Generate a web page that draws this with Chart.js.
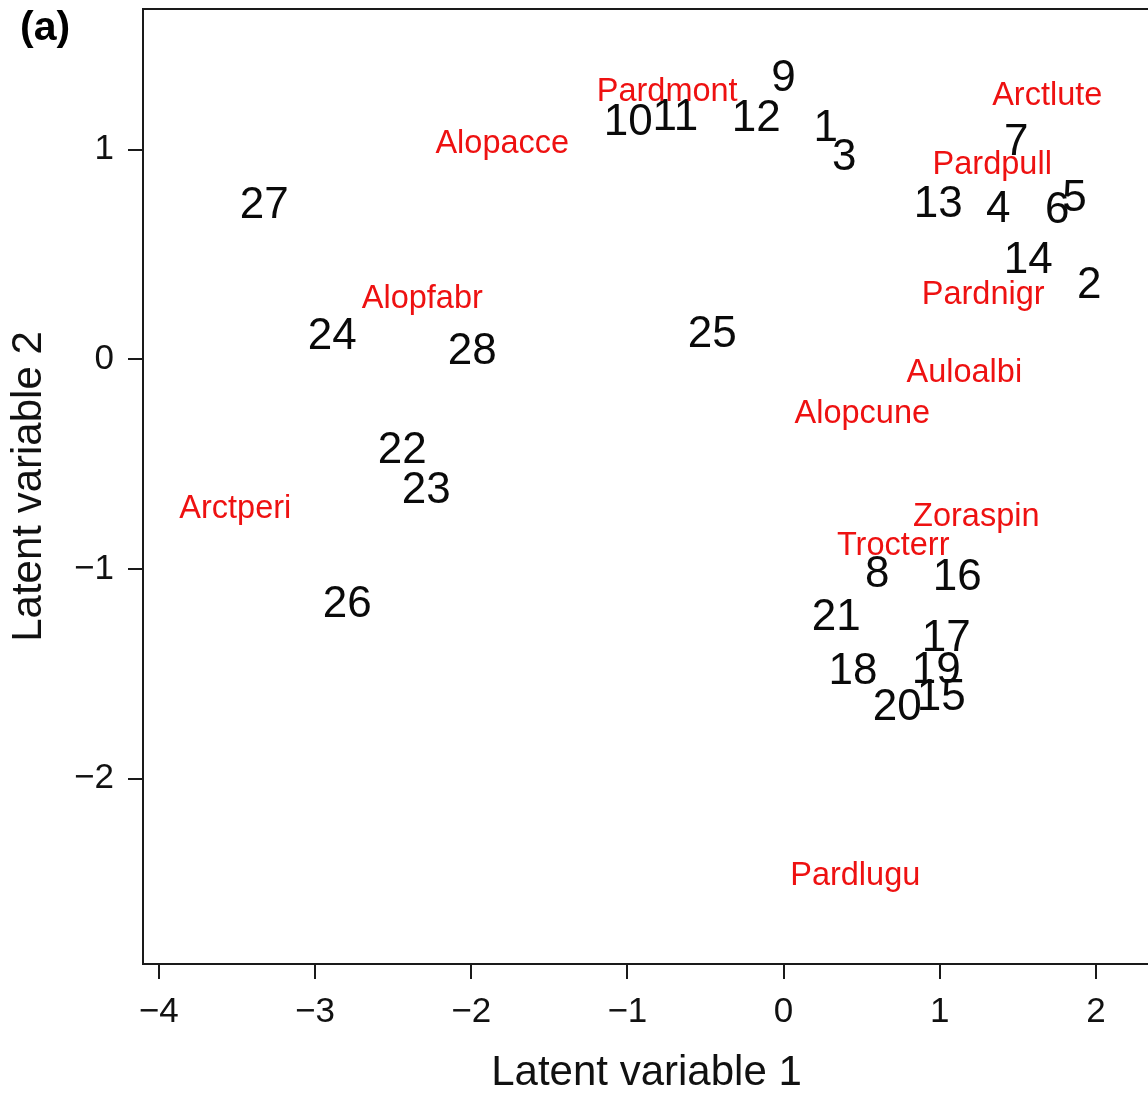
<!DOCTYPE html>
<html>
<head>
<meta charset="utf-8">
<script src="https://cdn.jsdelivr.net/npm/chart.js@4.4.1/dist/chart.umd.min.js"></script>
<style>
html,body{margin:0;padding:0;background:#fff;overflow:hidden;}
#wrap{position:relative;width:1160px;height:1095px;}
</style>
</head>
<body>
<div id="wrap"><canvas id="c" width="1160" height="1095"></canvas></div>
<script>
// ---- data ----
const siteLabels = ['1','2','3','4','5','6','7','8','9','10','11','12','13','14',
  '15','16','17','18','19','20','21','22','23','24','25','26','27','28'];
const siteX = [0.270, 1.957, 0.389, 1.375, 1.862, 1.752, 1.490, 0.599, 0.000, -0.995,
  -0.693, -0.175, 0.990, 1.567, 1.010, 1.112, 1.042, 0.445, 0.977, 0.728,
  0.337, -2.441, -2.287, -2.889, -0.456, -2.793, -3.325, -1.993];
const siteY = [1.117, 0.369, 0.979, 0.731, 0.784, 0.726, 1.051, -1.009, 1.356, 1.146,
  1.170, 1.165, 0.755, 0.488, -1.600, -1.024, -1.315, -1.472, -1.467, -1.644,
  -1.215, -0.418, -0.609, 0.125, 0.135, -1.153, 0.750, 0.054];

const speciesLabels = ['Alopacce','Alopcune','Alopfabr','Arctlute','Arctperi','Auloalbi',
  'Pardlugu','Pardmont','Pardnigr','Pardpull','Trocterr','Zoraspin'];
const speciesX = [-1.801, 0.504, -2.313, 1.688, -3.510, 1.157, 0.459, -0.745, 1.278, 1.336, 0.702, 1.234];
const speciesY = [1.041, -0.247, 0.302, 1.270, -0.704, -0.051, -2.450, 1.289, 0.321, 0.941, -0.876, -0.742];

const xTicks = [-4, -3, -2, -1, 0, 1, 2];
const yTicks = [-2, -1, 0, 1];
const xTitle = 'Latent variable 1';
const yTitle = 'Latent variable 2';
const panelLabel = '(a)';

// ---- chart ----
const FONT = "'Liberation Sans', Arial, Helvetica, sans-serif";
const fmt = v => (v < 0 ? '\u2212' + Math.abs(v) : String(v));

const textLabels = {
  id: 'textLabels',
  afterDatasetsDraw(chart) {
    const ctx = chart.ctx;
    const xs = chart.scales.x, ys = chart.scales.y;
    const area = chart.chartArea;
    ctx.save();
    ctx.beginPath();
    ctx.rect(area.left, area.top, area.right - area.left, area.bottom - area.top);
    ctx.clip();
    chart.data.datasets.forEach(ds => {
      ctx.font = ds.labelFont + 'px ' + FONT;
      ctx.fillStyle = ds.labelColor;
      ctx.textAlign = 'center';
      ctx.textBaseline = 'alphabetic';
      ds.data.forEach((p, i) => {
        const px = xs.getPixelForValue(p.x);
        const py = ys.getPixelForValue(p.y);
        ctx.fillText(ds.labels[i], px, py + 0.358 * ds.labelFont);
      });
    });
    ctx.restore();
  },
  afterDraw(chart) {
    const ctx = chart.ctx;
    const a = chart.chartArea;
    ctx.save();
    ctx.strokeStyle = '#1a1a1a';
    ctx.lineWidth = 2;
    ctx.strokeRect(a.left, a.top, a.right - a.left, a.bottom - a.top);
    ctx.font = 'bold 41px ' + FONT;
    ctx.fillStyle = '#000';
    ctx.textAlign = 'left';
    ctx.textBaseline = 'alphabetic';
    ctx.fillText(panelLabel, 20, 40);
    ctx.restore();
  }
};

new Chart(document.getElementById('c'), {
  type: 'scatter',
  data: {
    datasets: [
      {
        label: 'sites',
        data: siteX.map((x, i) => ({x: x, y: siteY[i]})),
        labels: siteLabels,
        labelFont: 44,
        labelColor: '#0a0a0a',
        pointRadius: 0,
        pointHoverRadius: 0
      },
      {
        label: 'species',
        data: speciesX.map((x, i) => ({x: x, y: speciesY[i]})),
        labels: speciesLabels,
        labelFont: 32.5,
        labelColor: '#ee1111',
        pointRadius: 0,
        pointHoverRadius: 0
      }
    ]
  },
  options: {
    responsive: false,
    animation: false,
    events: [],
    layout: {padding: {left: 0, top: 9, right: 10, bottom: 0}},
    plugins: {legend: {display: false}, tooltip: {enabled: false}},
    scales: {
      x: {
        type: 'linear',
        min: -4.101,
        max: 2.346,
        afterBuildTicks: s => { s.ticks = xTicks.map(v => ({value: v})); },
        afterFit: s => { s.height = 131; s.paddingLeft = 0; s.paddingRight = 0; },
        border: {display: false},
        grid: {drawOnChartArea: false, drawTicks: true, tickLength: 15, color: '#1a1a1a', lineWidth: 2},
        ticks: {
          color: '#111',
          font: {family: FONT, size: 35, lineHeight: 1},
          padding: 16,
          maxRotation: 0,
          autoSkip: false,
          callback: v => fmt(v)
        },
        title: {
          display: true,
          text: xTitle,
          color: '#111',
          font: {family: FONT, size: 42, lineHeight: 1},
          padding: {top: 0, bottom: 1}
        }
      },
      y: {
        type: 'linear',
        min: -2.884,
        max: 1.670,
        afterBuildTicks: s => { s.ticks = yTicks.map(v => ({value: v})); },
        afterFit: s => { s.width = 143; s.paddingTop = 0; s.paddingBottom = 0; },
        border: {display: false},
        grid: {drawOnChartArea: false, drawTicks: true, tickLength: 15, color: '#1a1a1a', lineWidth: 2},
        ticks: {
          color: '#111',
          font: {family: FONT, size: 35, lineHeight: 1},
          padding: 14,
          autoSkip: false,
          callback: v => fmt(v)
        },
        title: {
          display: true,
          text: yTitle,
          color: '#111',
          font: {family: FONT, size: 42, lineHeight: 1},
          padding: {top: 8, bottom: 0}
        }
      }
    }
  },
  plugins: [textLabels]
});
</script>
</body>
</html>
